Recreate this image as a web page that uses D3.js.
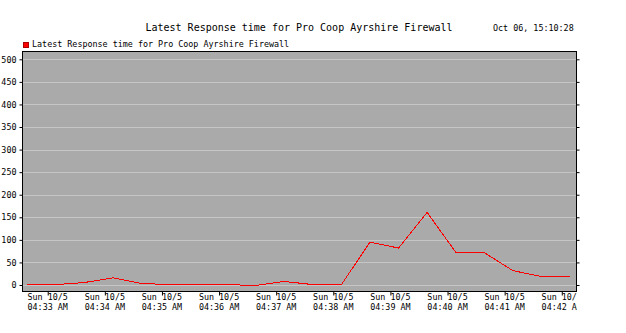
<!DOCTYPE html>
<html>
<head>
<meta charset="utf-8">
<script src="https://cdn.jsdelivr.net/npm/d3@7"></script>
<style>
  body { margin: 0; background: #ffffff; }
  text { font-family: "DejaVu Sans Mono", monospace; fill: #000000; }
</style>
</head>
<body>
<div id="mychart"></div>
<script>

var chart_width = 626
var chart_height = 333

// sample times (Sun 10/5) and response time values
var sample_times = ["04:32:38", "04:33:08", "04:33:38", "04:34:08", "04:34:38",
                    "04:35:08", "04:35:38", "04:36:08", "04:36:38", "04:37:08",
                    "04:37:38", "04:38:08", "04:38:38", "04:39:08", "04:39:38",
                    "04:40:08", "04:40:38", "04:41:08", "04:41:38", "04:42:08"]
var response_values = [2, 2, 6.6, 17, 4.5, 2, 2, 2, 0, 9, 2, 2, 96, 83, 162, 74, 73, 33, 20, 20]

var tick_times = ["04:33", "04:34", "04:35", "04:36", "04:37", "04:38", "04:39", "04:40", "04:41", "04:42"]
var tick_labels_top = ["Sun 10/5", "Sun 10/5", "Sun 10/5", "Sun 10/5", "Sun 10/5",
                       "Sun 10/5", "Sun 10/5", "Sun 10/5", "Sun 10/5", "Sun 10/5"]
var tick_labels_bottom = ["04:33 AM", "04:34 AM", "04:35 AM", "04:36 AM", "04:37 AM",
                          "04:38 AM", "04:39 AM", "04:40 AM", "04:41 AM", "04:42 AM"]
var y_ticks = [0, 50, 100, 150, 200, 250, 300, 350, 400, 450, 500]

var chart_title = "Latest Response time for Pro Coop Ayrshire Firewall"
var legend_label = "Latest Response time for Pro Coop Ayrshire Firewall"
var stamp_label = "Oct 06, 15:10:28"

var parseT = d3.timeParse("%Y-%m-%d %H:%M:%S")
function toDate(s) { return parseT("2025-10-05 " + (s.length == 5 ? s + ":00" : s)); }

var plot_left = 22, plot_right = 577, plot_top = 51, plot_bottom = 292

var svg = d3.select("#mychart").append("svg")
    .attr("width", chart_width)
    .attr("height", chart_height);

var x = d3.scaleTime()
    .domain([toDate("04:32:33"), toDate("04:42:16")])
    .range([plot_left, plot_right]);

var y = d3.scaleLinear()
    .domain([-15.5, 518.4])
    .range([plot_bottom, plot_top]);

svg.append("defs").append("clipPath")
    .attr("id", "clipright")
    .append("rect")
    .attr("x", 0).attr("y", 0)
    .attr("width", plot_right).attr("height", chart_height);

// plot background
svg.append("rect")
    .attr("x", plot_left)
    .attr("y", plot_top)
    .attr("width", plot_right - plot_left)
    .attr("height", plot_bottom - plot_top)
    .attr("fill", "#aaaaaa");

// grid lines
svg.selectAll(".grid")
    .data(y_ticks)
    .enter().append("line")
    .attr("class", "grid")
    .attr("x1", plot_left + 1)
    .attr("x2", plot_right)
    .attr("y1", function(d) { return Math.round(y(d)) + 0.5; })
    .attr("y2", function(d) { return Math.round(y(d)) + 0.5; })
    .attr("stroke", "#c6c6c6")
    .attr("stroke-width", 1);

// y axis left + right
var yLeft = svg.append("g")
    .attr("transform", "translate(" + (plot_left + 0.5) + ",0)")
    .call(d3.axisLeft(y).tickValues(y_ticks).tickSize(3).tickPadding(3));
yLeft.select(".domain").remove();
yLeft.selectAll("text")
    .attr("font-size", "8.4px")
    .attr("font-family", "DejaVu Sans Mono, monospace")
    .attr("fill", "#000");

var yRight = svg.append("g")
    .attr("transform", "translate(" + (plot_right - 0.5) + ",0)")
    .call(d3.axisRight(y).tickValues(y_ticks).tickSize(3).tickFormat(""));
yRight.select(".domain").remove();

// x axis
var xAxis = svg.append("g")
    .attr("transform", "translate(0," + (plot_bottom - 0.5) + ")")
    .attr("clip-path", "url(#clipright)")
    .call(d3.axisBottom(x).tickValues(tick_times.map(toDate)).tickSize(4).tickFormat(""));
xAxis.select(".domain").remove();

var xlab = svg.append("g").attr("clip-path", "url(#clipright)");
xlab.selectAll(".xl1")
    .data(tick_times)
    .enter().append("text")
    .attr("class", "xl1")
    .attr("x", function(d) { return x(toDate(d)); })
    .attr("y", 300)
    .attr("text-anchor", "middle")
    .attr("font-size", "8.4px")
    .text(function(d, i) { return tick_labels_top[i]; });
xlab.selectAll(".xl2")
    .data(tick_times)
    .enter().append("text")
    .attr("class", "xl2")
    .attr("x", function(d) { return x(toDate(d)); })
    .attr("y", 310)
    .attr("text-anchor", "middle")
    .attr("font-size", "8.4px")
    .text(function(d, i) { return tick_labels_bottom[i]; });

// the series
var line = d3.line()
    .x(function(d, i) { return x(toDate(sample_times[i])); })
    .y(function(d) { return y(d); });

svg.append("path")
    .datum(response_values)
    .attr("d", line)
    .attr("transform", "translate(0.5,0.5)")
    .attr("fill", "none")
    .attr("stroke", "#ff0000")
    .attr("stroke-width", 1)
    .attr("shape-rendering", "crispEdges");

// frame
svg.append("rect")
    .attr("x", plot_left + 0.5)
    .attr("y", plot_top + 0.5)
    .attr("width", plot_right - plot_left - 1)
    .attr("height", plot_bottom - plot_top - 1)
    .attr("fill", "none")
    .attr("stroke", "#000")
    .attr("stroke-width", 1);

// title, timestamp, legend
svg.append("text")
    .text(chart_title)
    .attr("x", 299)
    .attr("y", 31)
    .attr("text-anchor", "middle")
    .attr("font-size", "10px");

svg.append("text")
    .text(stamp_label)
    .attr("x", 493)
    .attr("y", 31)
    .attr("font-size", "8.4px");

svg.append("rect")
    .attr("x", 23.5)
    .attr("y", 42.5)
    .attr("width", 5)
    .attr("height", 5)
    .attr("fill", "#ff0000")
    .attr("stroke", "#aa0000")
    .attr("stroke-width", 1);

svg.append("text")
    .text(legend_label)
    .attr("x", 32)
    .attr("y", 46.5)
    .attr("font-size", "8.4px");

</script>
</body>
</html>
